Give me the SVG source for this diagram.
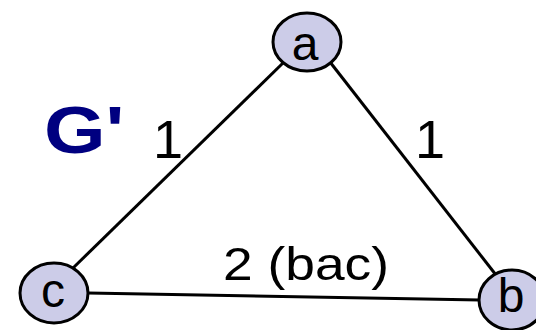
<svg xmlns="http://www.w3.org/2000/svg" width="536" height="330" viewBox="0 0 536 330">
<style>
.node ellipse{fill:#cccce8;stroke:#000;stroke-width:3}
.node text{font-family:"Liberation Sans",Arial,sans-serif;font-size:48px;text-anchor:middle;fill:#000}
.edge{stroke:#000;stroke-width:3;fill:none}
.lbl{font-family:"Liberation Sans",Arial,sans-serif;fill:#000}
</style>
<rect width="536" height="330" fill="#fff"/>
<g id="connectors">
<line class="edge" x1="284" y1="62" x2="72" y2="269"/>
<line class="edge" x1="330" y1="62" x2="496" y2="275"/>
<line class="edge" x1="88" y1="293" x2="480" y2="300"/>
</g>
<g id="node-a" class="node"><ellipse cx="307" cy="42" rx="34" ry="29"/><text x="305" y="60">a</text></g>
<g id="node-c" class="node"><ellipse cx="54" cy="293" rx="34" ry="30"/><text x="53" y="307">c</text></g>
<g id="node-b" class="node"><ellipse cx="512" cy="300" rx="33" ry="30"/><text x="511" y="312">b</text></g>
<g id="labels">
<text class="lbl" font-size="54" x="153" y="158">1</text>
<text class="lbl" font-size="54" x="415" y="158">1</text>
<text class="lbl" font-size="46" x="223" y="280" textLength="166" lengthAdjust="spacingAndGlyphs">2 (bac)</text>
<text font-family="Liberation Sans,Arial,sans-serif" font-size="66" font-weight="bold" fill="#000080" transform="translate(44,153) scale(1.2,1)">G'</text>
</g>
</svg>
